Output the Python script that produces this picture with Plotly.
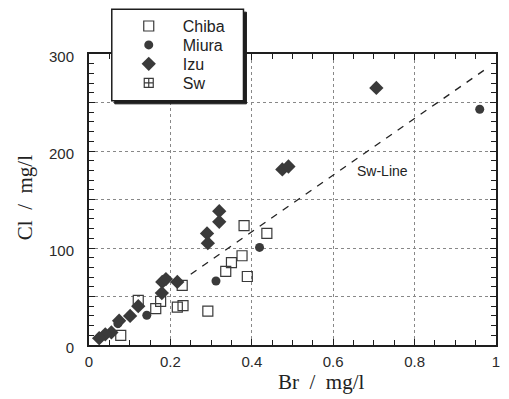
import plotly.graph_objects as go

# Data
chiba_br = [0.381, 0.437, 0.376, 0.350, 0.336, 0.389, 0.229, 0.121, 0.176, 0.164, 0.217, 0.231, 0.292, 0.078]
chiba_cl = [123, 115, 92, 85, 76, 70.6, 61.4, 46, 45, 37.5, 39, 40.6, 35, 10]

miura_br = [0.960, 0.419, 0.312, 0.142, 0.071]
miura_cl = [243, 100.6, 66, 30.7, 22]

izu_br = [0.706, 0.475, 0.490, 0.320, 0.320, 0.290, 0.292, 0.180, 0.189, 0.217, 0.179, 0.121, 0.101, 0.074, 0.055, 0.040, 0.025]
izu_cl = [265, 181, 184, 138, 127, 115, 105, 65, 68, 65, 53.5, 40, 30, 25, 13, 11, 7]

sw_br = [None]
sw_cl = [None]

swline_br = [0.25, 0.98]
swline_cl = [73, 286]

x_ticks = [0, 0.2, 0.4, 0.6, 0.8, 1]
x_ticktext = ["0", "0.2", "0.4", "0.6", "0.8", "1"]
y_ticks = [0, 50, 100, 150, 200, 250, 300]
y_ticktext = ["0", "", "100", "", "200", "", "300"]

dark = "#3a3a3a"
frame = "#1e1e1e"

fig = go.Figure()
fig.add_trace(go.Scatter(x=swline_br, y=swline_cl, mode="lines",
                         line=dict(color="#222", width=1.3, dash="7px,7px"),
                         showlegend=False, hoverinfo="skip"))
fig.add_trace(go.Scatter(x=chiba_br, y=chiba_cl, mode="markers", name="Chiba", legend="legend",
                         marker=dict(symbol="square-open", size=10, color=dark,
                                     line=dict(width=1.2, color=dark))))
fig.add_trace(go.Scatter(x=miura_br, y=miura_cl, mode="markers", name="Miura", legend="legend2",
                         marker=dict(symbol="circle", size=9, color=dark)))
fig.add_trace(go.Scatter(x=izu_br, y=izu_cl, mode="markers", name="Izu", legend="legend3",
                         marker=dict(symbol="diamond", size=11, color=dark)))
fig.add_trace(go.Scatter(x=sw_br, y=sw_cl, mode="markers", name="Sw", legend="legend4",
                         marker=dict(symbol="square-cross-open", size=9, color=dark,
                                     line=dict(width=1.2, color=dark))))

axis_common = dict(
    showline=True, linecolor=frame, linewidth=2, mirror="allticks",
    ticks="inside", ticklen=6, tickcolor=frame, tickwidth=1,
    showgrid=True, gridcolor="#888", griddash="dot", gridwidth=1,
    zeroline=False,
    tickfont=dict(family="Liberation Sans, Arial, sans-serif", size=15, color="#2a2a2a"),
)

fig.update_xaxes(range=[0, 1], tickmode="array", tickvals=x_ticks, ticktext=x_ticktext,
                 minor=dict(dtick=0.05, ticks="inside", ticklen=5, tickcolor=frame, showgrid=False),
                 ticklabelstandoff=2,
                 **axis_common)
fig.update_yaxes(range=[0, 300], tickmode="array", tickvals=y_ticks, ticktext=y_ticktext,
                 minor=dict(dtick=10, ticks="inside", ticklen=5, tickcolor=frame, showgrid=False),
                 ticklabelshift=3, ticklabelstandoff=10,
                 **axis_common)

# legend box with drop shadow
W, H = 411.0, 292.0
lx0, lx1 = (112 - 89) / W, (245 - 89) / W
ly0, ly1 = (345 - 100) / H, (345 - 8) / H
fig.add_shape(type="rect", xref="paper", yref="paper",
              x0=lx0 + 3 / W, x1=lx1 + 3 / W, y0=ly0 - 3 / H, y1=ly1 - 3 / H,
              fillcolor=frame, line=dict(color=frame, width=1), layer="above")
fig.add_shape(type="rect", xref="paper", yref="paper",
              x0=lx0, x1=lx1, y0=ly0, y1=ly1,
              fillcolor="white", line=dict(color=frame, width=1.5), layer="above")

fig.add_annotation(text="Sw-Line", x=0.72, y=179, xref="x", yref="y",
                   showarrow=False, font=dict(family="Liberation Sans, Arial, sans-serif", size=14, color="#222"))
fig.add_annotation(text="Br\u00a0\u00a0/\u00a0\u00a0mg/l", x=(324 - 89) / W, y=(345 - 382) / H,
                   xref="paper", yref="paper", showarrow=False, xanchor="center", yanchor="middle",
                   font=dict(family="Liberation Serif, Times New Roman, serif", size=21, color="#222"))
fig.add_annotation(text="Cl\u00a0\u00a0/\u00a0\u00a0mg/l", x=(24 - 89) / W, y=(345 - 197) / H,
                   xref="paper", yref="paper", showarrow=False, textangle=-90,
                   xanchor="center", yanchor="middle",
                   font=dict(family="Liberation Serif, Times New Roman, serif", size=21, color="#222"))

legend_rows = [25, 44, 63, 82]
leg_font = dict(family="Liberation Sans, Arial, sans-serif", size=16, color="#222")
legends = {}
for i, row in enumerate(legend_rows):
    key = "legend" if i == 0 else f"legend{i + 1}"
    legends[key] = dict(x=(115 - 89) / W, y=(345 - row) / H, xanchor="left", yanchor="middle",
                        bgcolor="rgba(0,0,0,0)", borderwidth=0, itemwidth=58,
                        tracegroupgap=0, font=leg_font)

fig.update_layout(
    width=509, height=399,
    margin=dict(l=89, r=9, t=53, b=54),
    paper_bgcolor="white", plot_bgcolor="white",
    showlegend=True,
    **legends,
)

fig.write_html("out.html")
